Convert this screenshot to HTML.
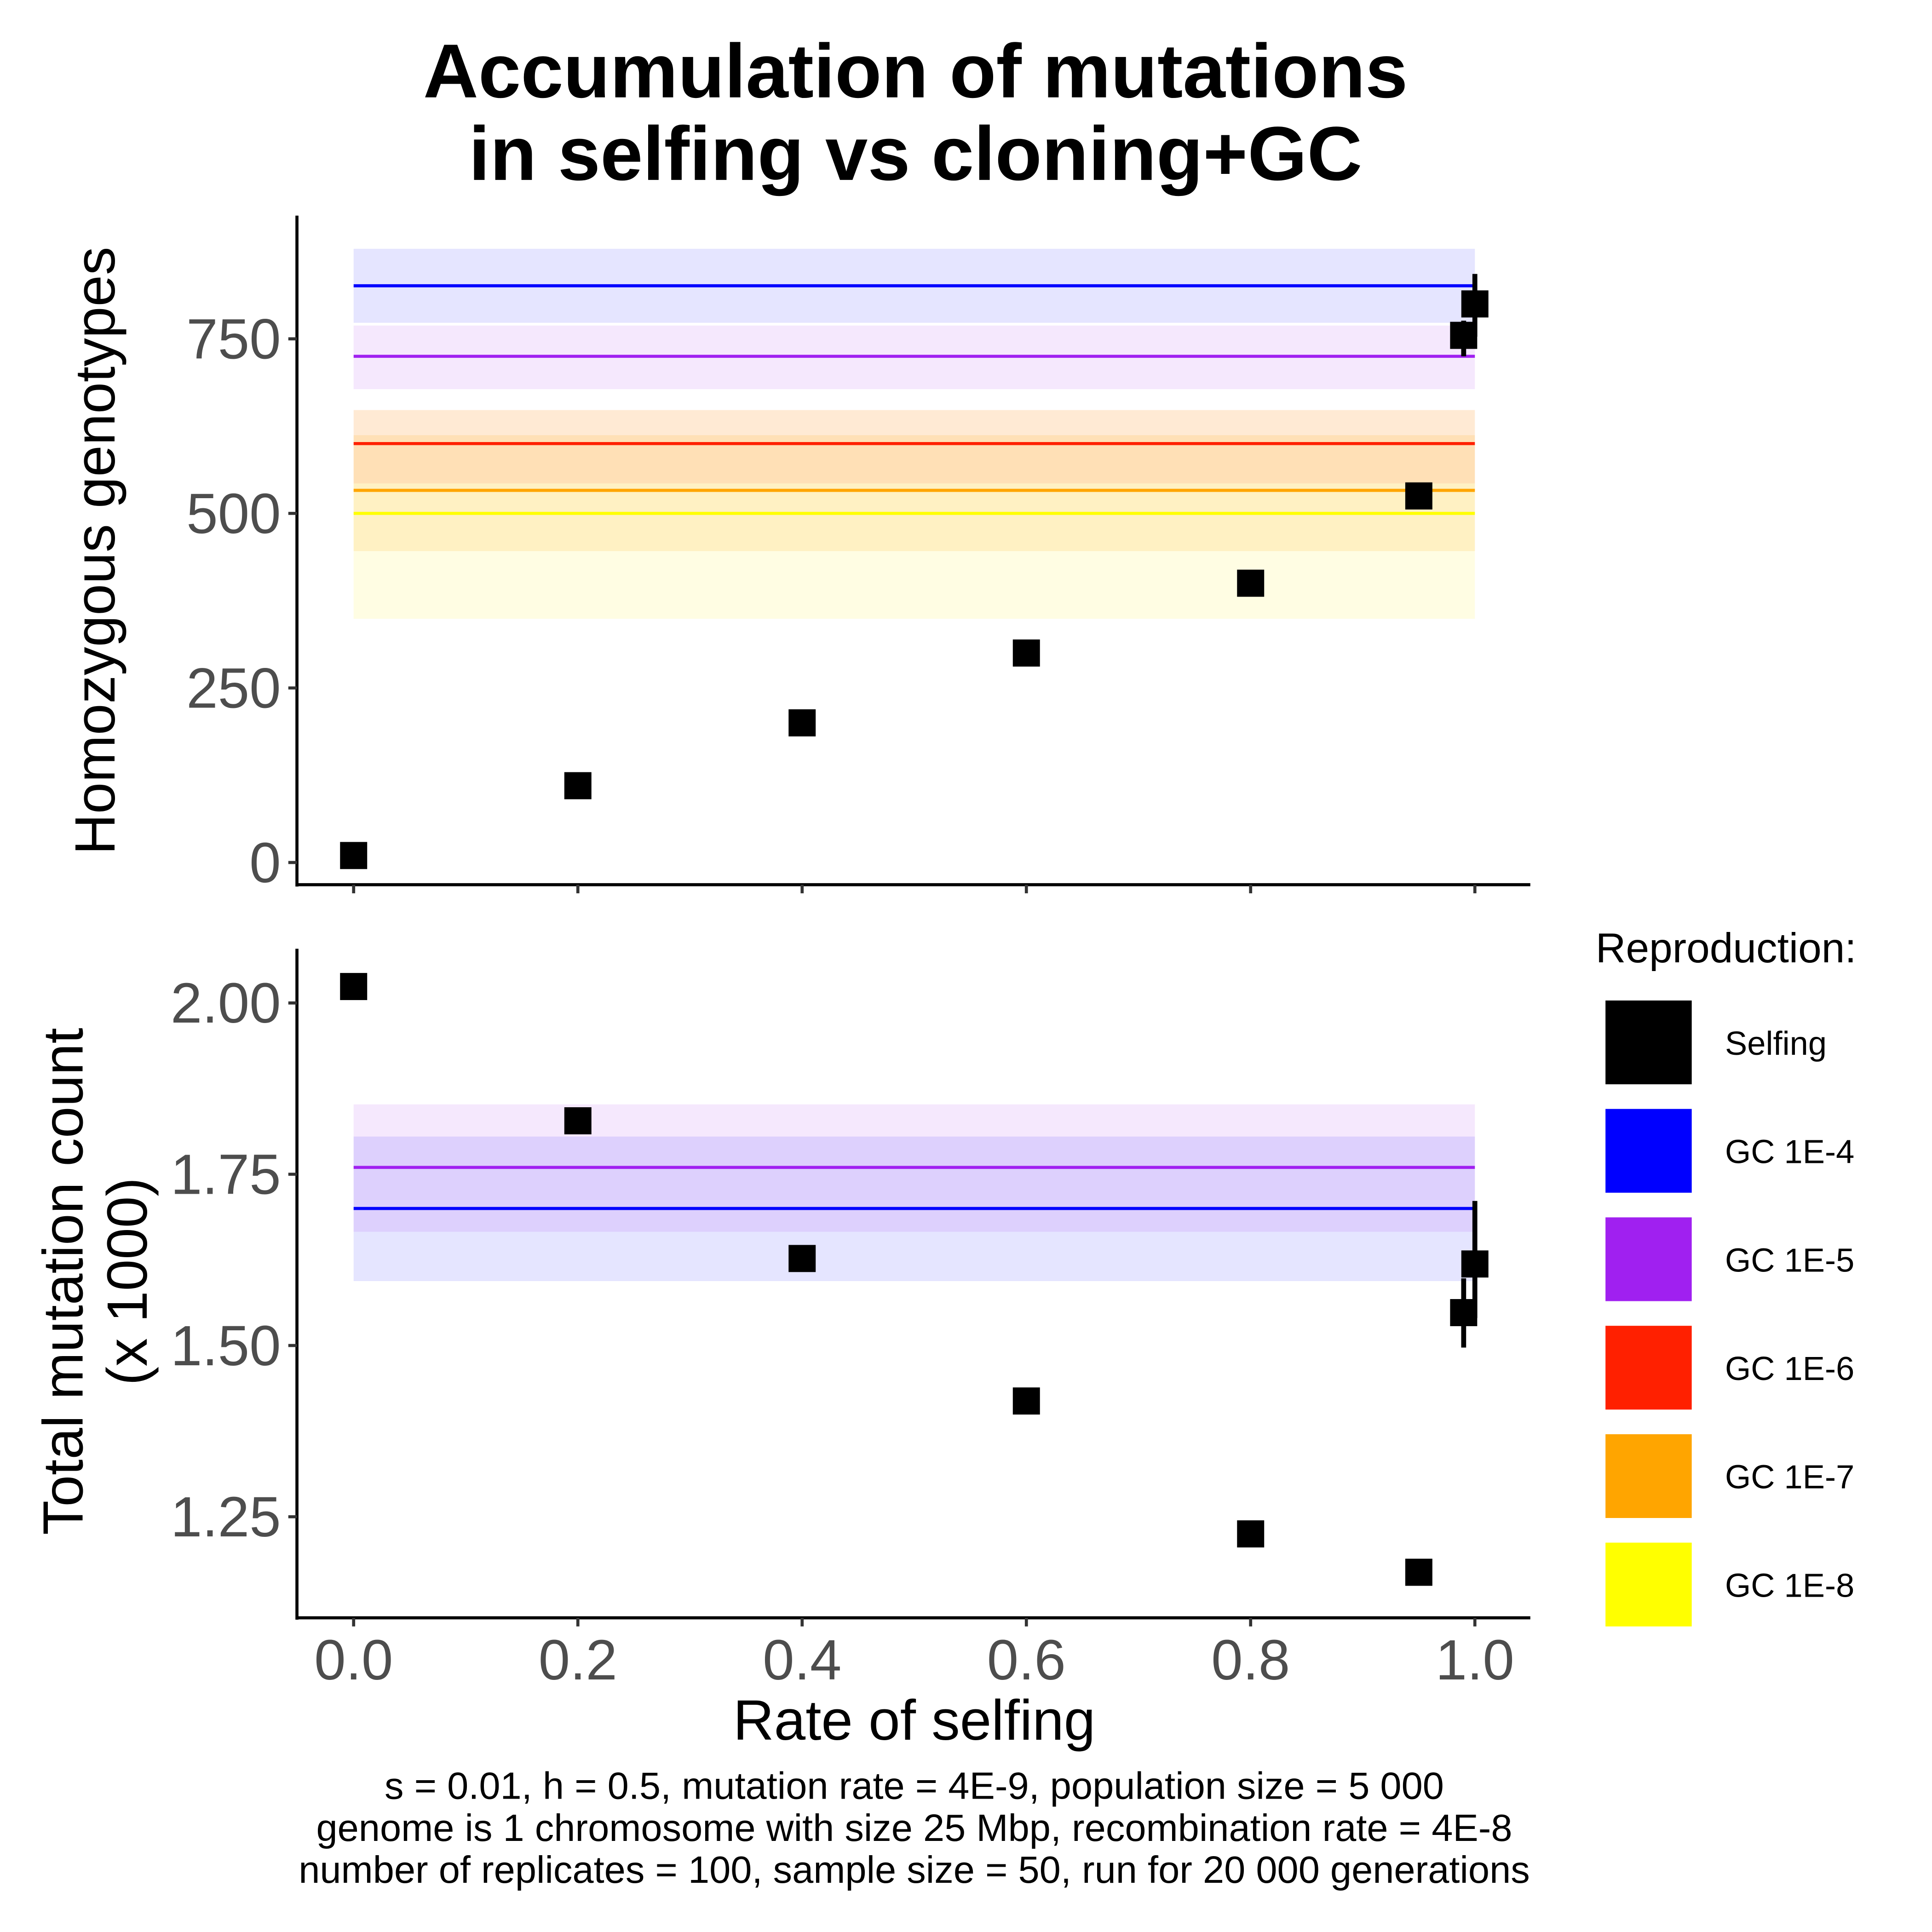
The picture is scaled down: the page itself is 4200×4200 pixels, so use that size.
<!DOCTYPE html>
<html><head><meta charset="utf-8"><style>
html,body{margin:0;padding:0;background:#fff;}
svg{display:block;font-family:"Liberation Sans",sans-serif;}
</style></head><body>
<svg id="chart" width="4200" height="4200" viewBox="0 0 1568 1568" xmlns="http://www.w3.org/2000/svg">
<rect width="1568" height="1568" fill="#fff"/>
<g font-weight="bold" font-size="62" text-anchor="middle">
<text x="743" y="79">Accumulation of mutations</text>
<text x="743" y="146">in selfing vs cloning+GC</text>
</g>
<g id="top"></g>
<g id="bot"></g>
<text font-size="46" text-anchor="middle" transform="translate(93,447) rotate(-90)">Homozygous genotypes</text>
<g font-size="46" text-anchor="middle">
<text transform="translate(67,1040) rotate(-90)">Total mutation count</text>
<text transform="translate(119,1040) rotate(-90)">(x 1000)</text>
</g>
<text font-size="46" text-anchor="middle" x="742" y="1412">Rate of selfing</text>
<g font-size="31" text-anchor="middle">
<text x="742" y="1460">s = 0.01, h = 0.5, mutation rate = 4E-9, population size = 5 000</text>
<text x="742" y="1494">genome is 1 chromosome with size 25 Mbp, recombination rate = 4E-8</text>
<text x="742" y="1528">number of replicates = 100, sample size = 50, run for 20 000 generations</text>
</g>
<g id="legend">
<text x="1295" y="781" font-size="34">Reproduction:</text>
</g>
</svg>
<script>
const xVals=[0,0.2,0.4,0.6,0.8,0.95,0.99,1.0];
const xTicks=[0,0.2,0.4,0.6,0.8,1.0];
const xTickLabels=["0.0","0.2","0.4","0.6","0.8","1.0"];
const homoVals=[10,110,200,300,400,525,755,800];
const homoLo=[10,110,200,300,400,520,725,753];
const homoHi=[10,110,200,300,400,530,776,843];
const homoTicks=[0,250,500,750];
const homoTickLabels=["0","250","500","750"];
const totVals=[2.024,1.828,1.627,1.419,1.225,1.169,1.548,1.619];
const totLo=[2.024,1.828,1.627,1.419,1.225,1.160,1.497,1.540];
const totHi=[2.024,1.828,1.627,1.419,1.225,1.178,1.598,1.711];
const totTicks=[1.25,1.5,1.75,2.0];
const totTickLabels=["1.25","1.50","1.75","2.00"];
const gcNames=["GC 1E-4","GC 1E-5","GC 1E-6","GC 1E-7","GC 1E-8"];
const gcColors=["#0000ff","#a020f0","#ff2000","#ffa500","#ffff00"];
const gcBandFill=["rgba(0,0,255,0.1)","rgba(160,32,240,0.1)","rgba(255,150,40,0.2)","rgba(255,165,0,0.14)","rgba(255,235,0,0.11)"];
const homoGcMean=[826,725,600,533,500];
const homoGcLo=[773,678,543,446,349];
const homoGcHi=[879,769,648,612,543];
const totGcMean=[1.700,1.760];
const totGcLo=[1.594,1.666];
const totGcHi=[1.805,1.852];

(function(){
var NS="http://www.w3.org/2000/svg";
var X0=287,X1=1197;
function xs(v){return X0+(X1-X0)*v;}
function yT(v){return 700-(700-275)*v/750;}
function yB(v){return 814+(2.0-v)/0.25*139;}
function mk(tag,attrs,parent){var e=document.createElementNS(NS,tag);for(var k in attrs)e.setAttribute(k,attrs[k]);parent.appendChild(e);return e;}

function panel(g,yf,ticks,labels,axTop,axBot,gm,glo,ghi,vals,lo,hi,showX){
  for(var i=0;i<gm.length;i++){
    var b=mk('rect',{x:xs(0),y:yf(ghi[i]),width:xs(1)-xs(0),height:yf(glo[i])-yf(ghi[i]),fill:gcBandFill[i]},g);
    
    
  }
  for(var i=0;i<gm.length;i++){
    var l=mk('line',{x1:xs(0),x2:xs(1),y1:yf(gm[i]),y2:yf(gm[i]),stroke:gcColors[i],'stroke-width':2.5},g);
    
    
  }
  for(var i=0;i<vals.length;i++){
    if(hi[i]-lo[i]>0){
      var e=mk('line',{x1:xs(xVals[i]),x2:xs(xVals[i]),y1:yf(hi[i]),y2:yf(lo[i]),stroke:'#000','stroke-width':4},g);
      
      
    }
    var p=mk('rect',{x:xs(xVals[i])-11,y:yf(vals[i])-11,width:22,height:22,fill:'#000'},g);
    
    
  }
  mk('line',{x1:241,x2:241,y1:axTop,y2:axBot+1.5,stroke:'#000','stroke-width':2.5},g);
  mk('line',{x1:240,x2:1242,y1:axBot,y2:axBot,stroke:'#000','stroke-width':2.5},g);
  for(var i=0;i<ticks.length;i++){
    var y=yf(ticks[i]);
    mk('line',{x1:234,x2:241,y1:y,y2:y,stroke:'#333','stroke-width':2.5},g);
    var t=mk('text',{x:228,y:y+16,'font-size':46,fill:'#4d4d4d','text-anchor':'end'},g);
    t.textContent=labels[i];
    
    
  }
  for(var i=0;i<xTicks.length;i++){
    var x=xs(xTicks[i]);
    mk('line',{x1:x,x2:x,y1:axBot,y2:axBot+7,stroke:'#333','stroke-width':2.5},g);
    if(showX){
      var t=mk('text',{x:x,y:axBot+50,'font-size':46,fill:'#4d4d4d','text-anchor':'middle'},g);
      t.textContent=xTickLabels[i];
      
      
    }
  }
}
panel(document.getElementById('top'),yT,homoTicks,homoTickLabels,175,718,homoGcMean,homoGcLo,homoGcHi,homoVals,homoLo,homoHi,false);
panel(document.getElementById('bot'),yB,totTicks,totTickLabels,770,1313,totGcMean,totGcLo,totGcHi,totVals,totLo,totHi,true);

var lg=document.getElementById('legend');
var legNames=["Selfing"].concat(gcNames);
var legColors=["#000"].concat(gcColors);
for(var i=0;i<legNames.length;i++){
  var y=812+i*88;
  var r=mk('rect',{x:1303,y:y,width:70,height:68,fill:legColors[i]},lg);
  
  
  var t=mk('text',{x:1400,y:y+44,'font-size':27},lg);
  t.textContent=legNames[i];
  
  
}
})();
</script>
</body></html>
